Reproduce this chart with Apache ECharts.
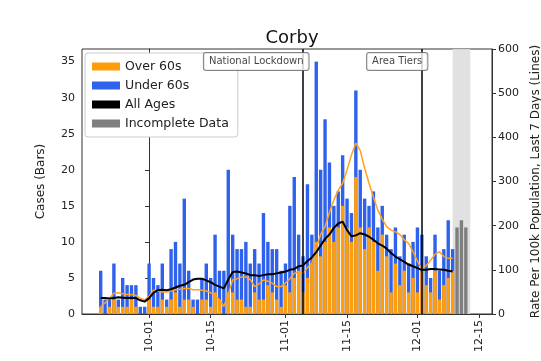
<!DOCTYPE html>
<html><head><meta charset="utf-8">
<script src="https://cdn.jsdelivr.net/npm/echarts@6/dist/echarts.min.js"></script>
<style>html,body{margin:0;padding:0;background:#fff}#c{width:541px;height:361px}</style>
</head><body><div id="c"></div>
<script>
// ---- data (daily, starting 2020-09-20) ----
const firstDate = '2020-09-20';
const over60 = [
  1,0,1,2,1,1,1,2,1,0,0,
  2,1,1,2,1,2,3,1,2,2,1,0,2,2,1,3,2,0,3,3,2,2,1,1,3,2,2,4,3,2,1,
  4,3,5,6,3,5,7,10,8,10,12,10,12,15,12,10,19,12,9,12,10,6,11,8,3,7,4,6,3,5,
  3,6,4,3,6,2,4,5,6
];
const under60 = [
  5,2,1,5,1,4,3,2,3,1,1,
  5,4,3,5,1,7,7,6,14,4,1,2,3,5,4,8,4,6,17,8,7,7,9,6,6,5,12,6,6,7,5,
  3,12,14,5,5,13,4,25,12,17,9,5,5,7,4,4,12,8,7,3,7,6,4,3,6,5,4,5,4,5,
  9,5,4,2,5,4,5,8,3
];
const incompleteDates = ['2020-12-10','2020-12-11','2020-12-12'];
const incompleteCases = [12,13,12];
// 7-day rate per 100k (lines), starting 2020-09-20
const allAgesRate = [
  36,36,35,36,38,37,36,37,36,31,28,
  36,48,54,55,54,56,60,64,66,72,78,80,80,76,72,66,62,58,78,95,96,94,92,88,88,86,88,90,90,92,94,
  96,100,102,108,110,120,128,140,155,170,180,195,205,209,190,176,178,183,180,175,168,160,155,148,138,130,124,118,112,108,
  104,100,100,102,102,101,100,98,96
];
const over60Rate = [
  17,25,35,47,48,46,44,44,42,36,32,
  40,54,52,50,50,52,55,56,58,58,55,55,54,52,48,42,32,17,45,77,80,84,84,78,62,68,77,74,70,62,62,
  70,80,92,96,92,105,115,150,180,198,230,258,280,296,326,360,387,370,330,296,265,235,215,198,190,186,180,168,160,141,
  120,100,110,122,135,141,130,126,126
];
const tickLabels = ['10-01','10-15','11-01','11-15','12-01','12-15'];
const eventDates = ['2020-11-05','2020-12-02'];
const eventLabels = ['National Lockdown','Area Tiers'];
const shadeSpan = ['2020-12-09','2020-12-13'];
const leftTicks = [0,5,10,15,20,25,30,35];

// ---- helpers ----
const DAY = 86400000, ORIGIN = Date.UTC(2020,9,1);
function dayIdx(s){const p=s.split('-').map(Number);return (Date.UTC(p[0],p[1]-1,p[2])-ORIGIN)/DAY;}
const d0 = dayIdx(firstDate);
const pairs = arr => arr.map((v,i)=>[d0+i,v]);
// under-60 bar sits on top of the over-60 bar: draw its top at the combined height
const totals = under60.map((v,i)=>v+over60[i]);
const tickPos = tickLabels.map(t=>dayIdx('2020-'+t));
const labelOf = {}; tickPos.forEach((p,i)=>labelOf[p]=tickLabels[i]);

const FONT = 'DejaVu Sans';
const chart = echarts.init(document.getElementById('c'), null, {renderer:'canvas'});
chart.setOption({
  animation:false,
  backgroundColor:'#fff',
  textStyle:{fontFamily:FONT},
  title:{text:'Corby', left:287, textAlign:'center', top:24,
    textStyle:{fontFamily:FONT, fontSize:18, fontWeight:'normal', color:'#111'}},
  grid:{left:82, right:49, top:49, bottom:47, show:true, borderColor:'#333', borderWidth:1,
    backgroundColor:'transparent', containLabel:false, outerBoundsMode:'none'},
  legend:{
    data:['Over 60s','Under 60s','All Ages','Incomplete Data'],
    orient:'vertical', left:85, top:53, icon:'rect', itemWidth:28, itemHeight:8, itemGap:6,
    backgroundColor:'#fff', borderColor:'#ccc', borderWidth:1, borderRadius:3, padding:[7,9,7,7],
    textStyle:{fontFamily:FONT, fontSize:12.5, color:'#222'}, selectedMode:false
  },
  xAxis:{
    type:'value', min:-15.25, max:77.95,
    axisLine:{show:true, lineStyle:{color:'#333'}},
    axisTick:{show:true, customValues:tickPos, length:4, lineStyle:{color:'#333'}},
    axisLabel:{customValues:tickPos, rotate:90, fontSize:11, color:'#222', margin:6,
      formatter:v=>labelOf[v]||''},
    splitLine:{show:false}
  },
  yAxis:[{
    type:'value', min:0, max:36.75, position:'left',
    name:'Cases (Bars)', nameLocation:'middle', nameRotate:90, nameGap:35,
    nameTextStyle:{fontSize:12, color:'#222', fontFamily:FONT},
    axisLine:{show:true, lineStyle:{color:'#333'}},
    axisTick:{show:true, customValues:leftTicks, length:4, lineStyle:{color:'#333'}},
    axisLabel:{customValues:leftTicks, fontSize:11, color:'#222', margin:7},
    splitLine:{show:false}
  },{
    type:'value', min:0, max:600, interval:100, position:'right',
    name:'Rate Per 100k Population, Last 7 Days (Lines)', nameLocation:'middle', nameRotate:90, nameGap:37,
    nameTextStyle:{fontSize:12, color:'#222', fontFamily:FONT},
    axisLine:{show:true, lineStyle:{color:'#333'}},
    axisTick:{show:true, length:4, lineStyle:{color:'#333'}},
    axisLabel:{fontSize:11, color:'#222', margin:6},
    splitLine:{show:false}
  }],
  series:[
    {name:'shade', type:'line', data:[], z:0, silent:true,
      markArea:{silent:true, itemStyle:{color:'#dedede', opacity:0.9},
        data:[[{xAxis:dayIdx(shadeSpan[0])},{xAxis:dayIdx(shadeSpan[1])}]]}},
    {name:'Under 60s', type:'bar', barWidth:3.4, barGap:'-100%', z:2,
      itemStyle:{color:'#2f62ec'}, data:pairs(totals)},
    {name:'Over 60s', type:'bar', barWidth:3.4, barGap:'-100%', z:2,
      itemStyle:{color:'#ff9d0a'}, data:pairs(over60)},
    {name:'Incomplete Data', type:'bar', barWidth:3.4, barGap:'-100%', z:2,
      itemStyle:{color:'#7f7f7f'}, data:incompleteDates.map((d,i)=>[dayIdx(d),incompleteCases[i]])},
    {name:'Over 60s rate', type:'line', yAxisIndex:1, showSymbol:false, z:3,
      lineStyle:{color:'#ffa21f', width:1.5}, itemStyle:{color:'#ffa21f'}, data:pairs(over60Rate)},
    {name:'All Ages', type:'line', yAxisIndex:1, showSymbol:false, z:4,
      lineStyle:{color:'#000', width:2}, itemStyle:{color:'#000'}, data:pairs(allAgesRate)},
    {name:'events', type:'scatter', z:6, symbolSize:1, itemStyle:{color:'transparent'},
      data:eventDates.map((d,i)=>[dayIdx(d),35,eventLabels[i]]),
      label:{show:true, position:'left', distance:-6, formatter:p=>p.data[2],
        fontSize:10, color:'#111', backgroundColor:'#fff', borderColor:'#666', borderWidth:1,
        borderRadius:2, padding:[4,5,3,5], fontFamily:FONT},
      markLine:{silent:true, symbol:['none','none'], label:{show:false},
        lineStyle:{color:'#000', width:1.5, type:'solid'},
        data:eventDates.map(d=>({xAxis:dayIdx(d)}))}}
  ]
});
</script></body></html>
